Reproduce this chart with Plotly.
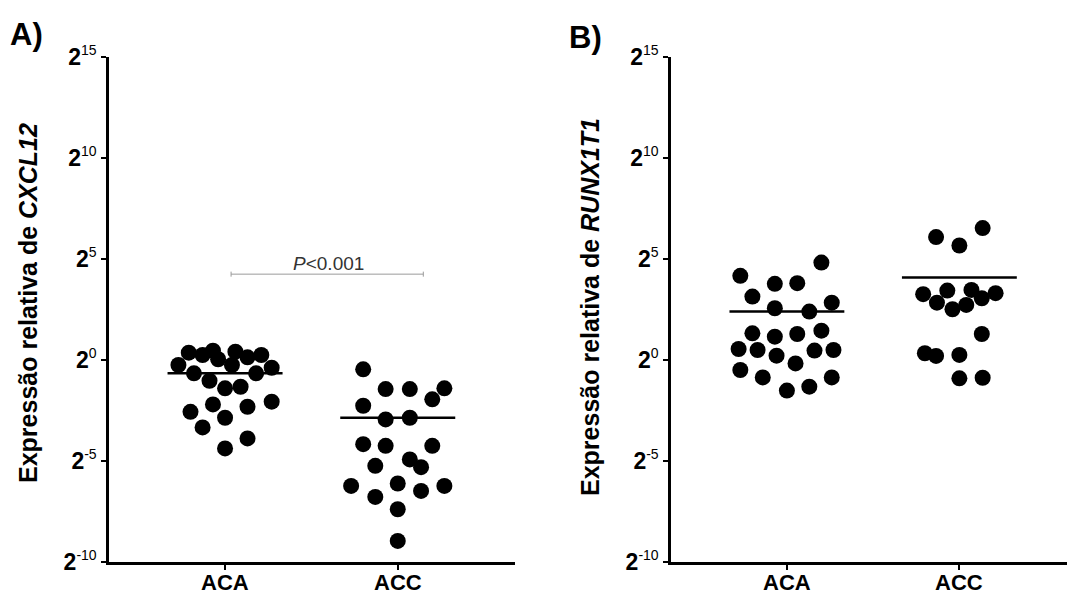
import numpy as np
import plotly.graph_objects as go

# ---------------- data (relative expression) ----------------
categories = ["ACA", "ACC"]

# Panel A: CXCL12
cxcl12_aca = [1.285, 1.188, 1.376, 1.025, 1.331, 1.097, 1.188, 0.842, 0.842, 0.767,
              0.633, 0.633, 0.491, 0.378, 0.399, 0.218, 0.169, 0.201, 0.239, 0.138,
              0.099, 0.0678, 0.0481]
cxcl12_aca_jitter = [-0.21, -0.13, -0.07, -0.04, 0.06, 0.13, 0.21, 0.04, -0.27, 0.27,
                     -0.18, 0.18, -0.09, 0.0, 0.09, -0.07, -0.20, 0.13, 0.27, 0.0,
                     -0.13, 0.13, 0.0]
cxcl12_acc = [0.727, 0.369, 0.369, 0.378, 0.259, 0.208, 0.1303, 0.1377, 0.0557, 0.0526,
              0.0526, 0.02646, 0.03296, 0.02529, 0.0133, 0.01445, 0.0112, 0.0133, 0.00912,
              0.00597, 0.00201]
cxcl12_acc_jitter = [-0.20, -0.07, 0.07, 0.27, 0.20, -0.20, -0.07, 0.07, -0.20, -0.07,
                     0.20, -0.13, 0.07, 0.135, -0.27, 0.0, 0.135, 0.27, -0.13, 0.0, 0.0]

# Panel B: RUNX1T1
runx_aca = [17.94, 13.63, 13.96, 28.33, 8.80, 5.91, 5.26, 7.16, 2.50, 2.23, 2.44, 2.74,
            1.46, 1.41, 1.16, 1.38, 1.41, 0.89, 0.71, 0.55, 0.35, 0.40, 0.55]
runx_aca_jitter = [-0.27, -0.07, 0.06, 0.20, -0.20, -0.07, 0.13, 0.26, -0.20, -0.07, 0.06,
                   0.20, -0.28, -0.17, -0.06, 0.16, 0.27, 0.05, -0.27, -0.14, 0.0, 0.13, 0.26]
runx_acc = [9.56, 10.82, 11.09, 9.90, 7.16, 5.71, 6.62, 8.33, 2.44, 1.26, 1.15, 1.19,
            0.533, 0.544, 67.8, 50.8, 92.4]
runx_acc_jitter = [-0.21, -0.07, 0.07, 0.21, -0.13, -0.04, 0.04, 0.13, 0.13, -0.20, -0.135,
                   0.0, 0.0, 0.135, -0.135, 0.0, 0.135]

# significance bracket (panel A)
bracket_x = [0.035, 1.148]
bracket_y = 19.03
p_text = "<i>P</i>&lt;0.001"

# axis ticks
tick_exponents = [-10, -5, 0, 5, 10, 15]
tick_labels = ["<b>2</b><sup><span style='font-size:14px'>%d</span></sup>" % e
               for e in tick_exponents]

# ---------------- layout helpers ----------------
W, H = 1067, 596
MT, MB = 57, 34
FONT = "Liberation Sans, Arial, sans-serif"


def px_x(p):
    return p / W


def px_y(p):
    return (H - MB - p) / (H - MT - MB)


fig = go.Figure()


def add_panel(xa, ya, groups):
    for gi, (vals, jit) in enumerate(groups):
        fig.add_trace(go.Scatter(
            x=[gi + j for j in jit], y=vals, mode="markers",
            marker=dict(size=16, color="black", line=dict(width=0)),
            xaxis=xa, yaxis=ya, showlegend=False, hoverinfo="y"))
        m = float(np.mean(vals))
        fig.add_trace(go.Scatter(
            x=[gi - 0.333, gi + 0.333], y=[m, m], mode="lines",
            line=dict(color="black", width=2.5),
            xaxis=xa, yaxis=ya, showlegend=False, hoverinfo="skip"))


add_panel("x", "y", [(cxcl12_aca, cxcl12_aca_jitter), (cxcl12_acc, cxcl12_acc_jitter)])
add_panel("x2", "y2", [(runx_aca, runx_aca_jitter), (runx_acc, runx_acc_jitter)])

# bracket
d = 1.09
fig.add_trace(go.Scatter(
    x=[bracket_x[0], bracket_x[0], None, bracket_x[0], bracket_x[1], None, bracket_x[1], bracket_x[1]],
    y=[bracket_y / d, bracket_y * d, None, bracket_y, bracket_y, None, bracket_y / d, bracket_y * d],
    mode="lines", line=dict(color="#9a9a9a", width=1), connectgaps=False,
    xaxis="x", yaxis="y", showlegend=False, hoverinfo="skip"))

yaxis_common = dict(
    type="log",
    range=[np.log10(2.0 ** tick_exponents[0]), np.log10(2.0 ** tick_exponents[-1])],
    tickmode="array", tickvals=[2.0 ** e for e in tick_exponents], ticktext=tick_labels,
    showgrid=False, zeroline=False, showline=True, linecolor="black", linewidth=2.5,
    ticks="outside", ticklen=5, tickwidth=2, tickcolor="black",
    tickfont=dict(family=FONT, size=23, color="black"),
    domain=[0, 1],
)
xaxis_common = dict(
    tickmode="array", tickvals=[0, 1], showticklabels=False,
    showgrid=False, zeroline=False, showline=True, linecolor="black", linewidth=2.5,
    ticks="outside", ticklen=5, tickwidth=2, tickcolor="black",
)

fig.update_layout(
    width=W, height=H,
    margin=dict(l=0, r=0, t=MT, b=MB),
    paper_bgcolor="white", plot_bgcolor="white",
    font=dict(family=FONT, color="black"),
    xaxis=dict(xaxis_common, domain=[px_x(109), px_x(515)], range=[-0.672, 1.679], anchor="y"),
    yaxis=dict(yaxis_common, anchor="x"),
    xaxis2=dict(xaxis_common, domain=[px_x(671), 1.0], range=[-0.672, 1.624], anchor="y2"),
    yaxis2=dict(yaxis_common, anchor="x2"),
    showlegend=False,
)

annots = [
    dict(text="<b>A)</b>", x=px_x(8), y=px_y(35), xanchor="left", yanchor="middle",
         font=dict(family=FONT, size=31, color="black")),
    dict(text="<b>B)</b>", x=px_x(567), y=px_y(38), xanchor="left", yanchor="middle",
         font=dict(family=FONT, size=31, color="black")),
    dict(text="<b>Expressão relativa de <i>CXCL12</i></b>", x=px_x(28), y=px_y(303),
         xanchor="center", yanchor="middle", textangle=-90,
         font=dict(family=FONT, size=25, color="black")),
    dict(text="<b>Expressão relativa de <i>RUNX1T1</i></b>", x=px_x(590), y=px_y(307),
         xanchor="center", yanchor="middle", textangle=-90,
         font=dict(family=FONT, size=25, color="black")),
    dict(text=p_text, x=px_x(328), y=px_y(263), xanchor="center", yanchor="middle",
         font=dict(family=FONT, size=19, color="#333333")),
]
for a in annots:
    a.update(xref="paper", yref="paper")

# category labels under each panel's x axis
for xa in ["x", "x2"]:
    for gi, c in enumerate(categories):
        annots.append(dict(text="<b>%s</b>" % c, x=gi, xref=xa, y=px_y(596), yref="paper",
                           xanchor="center", yanchor="bottom", borderpad=0,
                           font=dict(family=FONT, size=22, color="black")))

for a in annots:
    a.update(showarrow=False)
fig.update_layout(annotations=annots)

# remove the page's default body margin so the figure sits at the window's corner
fig.write_html("out.html",
               config={"displayModeBar": False},
               post_script="document.body.style.margin='0';document.body.style.overflow='hidden';")
